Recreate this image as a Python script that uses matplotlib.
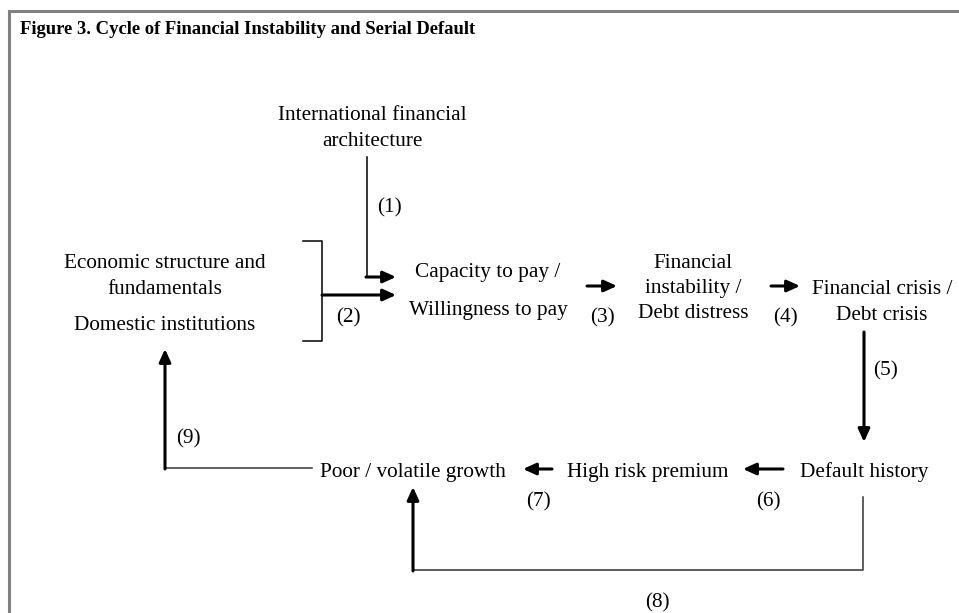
import matplotlib.pyplot as plt

# node labels
title = "Figure 3. Cycle of Financial Instability and Serial Default"
top_node = ["International financial", "architecture"]
left_nodes = ["Economic structure and", "fundamentals", "Domestic institutions"]
capacity_node = ["Capacity to pay /", "Willingness to pay"]
instability_node = ["Financial", "instability /", "Debt distress"]
crisis_node = ["Financial crisis /", "Debt crisis"]
row2_nodes = ["Poor / volatile growth", "High risk premium", "Default history"]
step_labels = ["(1)", "(2)", "(3)", "(4)", "(5)", "(6)", "(7)", "(8)", "(9)"]

plt.rcParams['font.family'] = ['Liberation Serif', 'DejaVu Serif']
fs = 15.3
dy = 3  # va='center' sits a little high for this font

fig = plt.figure(figsize=(9.59, 6.13), dpi=100)
ax = fig.add_axes([0, 0, 1, 1])
ax.set_xlim(0, 959)
ax.set_ylim(613, 0)
ax.axis('off')

# frame (top and left edges only)
ax.plot([9, 9, 959], [613, 11, 11], color='#808080', lw=2.2, solid_joinstyle='miter')

ax.text(20, 30, title, fontsize=13.4, fontweight='bold', ha='left', va='center')


def node(x, ys, lines):
    for y, s in zip(ys, lines):
        ax.text(x, y + dy, s, fontsize=fs, ha='center', va='center')


node(372, [113, 138], top_node)
node(165, [260, 286, 323], left_nodes)
node(488, [270, 307], capacity_node)
node(693, [260, 286, 311], instability_node)
node(882, [287, 312], crisis_node)
node(413, [469], row2_nodes[:1])
node(648, [469], row2_nodes[1:2])
node(864, [469], row2_nodes[2:])

lab_pos = [(389, 205), (348, 315), (602, 315), (785, 315), (885, 368),
           (768, 499), (538, 499), (657, 600), (188, 436)]
for s, (x, y) in zip(step_labels, lab_pos):
    ax.text(x, y + dy, s, fontsize=fs, ha='center', va='center')


def arrow(x0, y0, x1, y1, lw=2.2):
    ax.annotate('', xy=(x1, y1), xytext=(x0, y0),
                arrowprops=dict(arrowstyle='-|>,head_length=0.55,head_width=0.25',
                                lw=lw, color='black', shrinkA=0, shrinkB=0,
                                mutation_scale=14))


thin = dict(color='black', lw=1.1)
thin_gray = dict(color='#333333', lw=1.1)

# (1)
ax.plot([367, 367], [157, 277], **thin)
arrow(366, 277, 396, 277)
# bracket and (2)
ax.plot([303, 322, 322, 303], [241, 241, 341, 341], **thin)
arrow(322, 295, 396, 295)
# (3), (4)
arrow(587, 286, 617, 286)
arrow(771, 286, 800, 286)
# (5)
arrow(864, 332, 864, 442)
# (6), (7)
arrow(783, 469, 743, 469)
arrow(552, 469, 523, 469)
# (8)
ax.plot([863, 863, 413], [497, 570, 570], **thin_gray)
arrow(413, 571, 413, 487)
# (9)
ax.plot([312, 165], [468, 468], **thin_gray)
arrow(165, 469, 165, 349)

fig.savefig('out.png', dpi=100)
